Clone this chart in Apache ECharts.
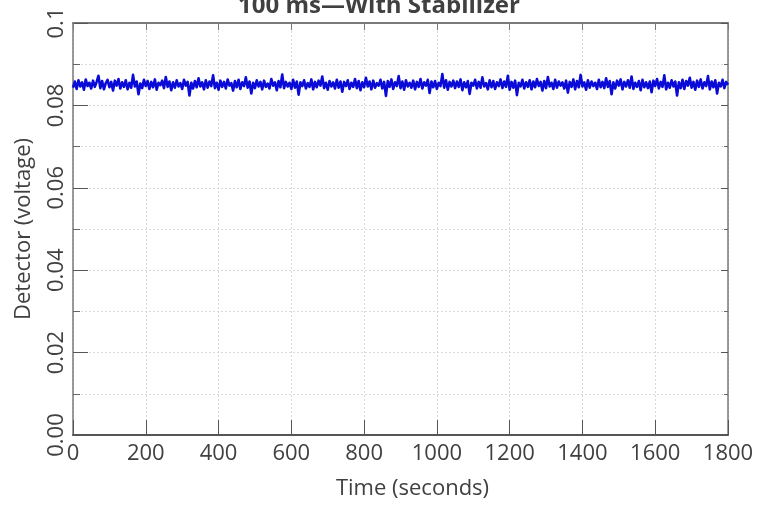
<!DOCTYPE html>
<html>
<head>
<meta charset="utf-8">
<script src="https://cdn.jsdelivr.net/npm/echarts@6/dist/echarts.min.js"></script>
<style>
  html, body { margin: 0; padding: 0; background: #fff; }
  #chart { width: 768px; height: 505px; }
</style>
</head>
<body>
<div id="chart"></div>
<script>
// detector reading, one sample every 5 s from 0 to 1800 s
const sampleStep = 5;
const detectorVolts = [
  0.0843,0.0858,0.0840,0.0861,0.0846,0.0856,0.0838,0.0863,0.0847,0.0855,
  0.0841,0.0860,0.0845,0.0857,0.0872,0.0842,0.0859,0.0839,0.0854,0.0862,
  0.0844,0.0857,0.0836,0.0860,0.0848,0.0864,0.0841,0.0856,0.0845,0.0861,
  0.0839,0.0855,0.0843,0.0874,0.0846,0.0858,0.0827,0.0853,0.0842,0.0862,
  0.0847,0.0859,0.0840,0.0857,0.0844,0.0863,0.0838,0.0855,0.0849,0.0860,
  0.0842,0.0869,0.0845,0.0858,0.0837,0.0856,0.0843,0.0861,0.0846,0.0854,
  0.0840,0.0862,0.0848,0.0857,0.0824,0.0855,0.0841,0.0859,0.0844,0.0866,
  0.0846,0.0856,0.0839,0.0861,0.0843,0.0858,0.0847,0.0873,0.0842,0.0855,
  0.0838,0.0860,0.0845,0.0857,0.0841,0.0863,0.0848,0.0854,0.0836,0.0859,
  0.0844,0.0862,0.0840,0.0856,0.0847,0.0868,0.0843,0.0858,0.0829,0.0855,
  0.0842,0.0861,0.0846,0.0857,0.0839,0.0860,0.0845,0.0853,0.0841,0.0864,
  0.0848,0.0856,0.0837,0.0859,0.0844,0.0875,0.0842,0.0857,0.0846,0.0855,
  0.0840,0.0862,0.0843,0.0858,0.0826,0.0856,0.0847,0.0861,0.0841,0.0854,
  0.0845,0.0863,0.0839,0.0857,0.0844,0.0860,0.0848,0.0870,0.0842,0.0855,
  0.0838,0.0859,0.0846,0.0856,0.0841,0.0862,0.0843,0.0858,0.0833,0.0857,
  0.0847,0.0861,0.0840,0.0855,0.0845,0.0864,0.0842,0.0859,0.0837,0.0856,
  0.0844,0.0867,0.0846,0.0858,0.0839,0.0860,0.0843,0.0854,0.0848,0.0862,
  0.0841,0.0857,0.0823,0.0859,0.0845,0.0863,0.0840,0.0856,0.0847,0.0871,
  0.0842,0.0858,0.0838,0.0861,0.0846,0.0855,0.0843,0.0860,0.0839,0.0857,
  0.0845,0.0864,0.0841,0.0856,0.0848,0.0862,0.0830,0.0858,0.0844,0.0859,
  0.0840,0.0855,0.0847,0.0876,0.0843,0.0861,0.0838,0.0857,0.0846,0.0860,
  0.0842,0.0858,0.0845,0.0863,0.0837,0.0856,0.0844,0.0859,0.0828,0.0855,
  0.0848,0.0862,0.0841,0.0857,0.0843,0.0868,0.0846,0.0854,0.0839,0.0861,
  0.0844,0.0859,0.0840,0.0856,0.0847,0.0863,0.0842,0.0858,0.0845,0.0872,
  0.0838,0.0857,0.0843,0.0860,0.0825,0.0855,0.0846,0.0862,0.0841,0.0856,
  0.0845,0.0861,0.0839,0.0858,0.0844,0.0864,0.0847,0.0857,0.0836,0.0859,
  0.0842,0.0869,0.0846,0.0855,0.0840,0.0862,0.0843,0.0858,0.0848,0.0856,
  0.0841,0.0860,0.0831,0.0857,0.0845,0.0863,0.0839,0.0859,0.0844,0.0874,
  0.0846,0.0856,0.0838,0.0861,0.0843,0.0858,0.0847,0.0855,0.0840,0.0862,
  0.0844,0.0857,0.0842,0.0866,0.0845,0.0859,0.0827,0.0856,0.0841,0.0860,
  0.0848,0.0863,0.0839,0.0857,0.0846,0.0861,0.0843,0.0870,0.0840,0.0855,
  0.0845,0.0859,0.0837,0.0862,0.0844,0.0856,0.0842,0.0858,0.0832,0.0860,
  0.0847,0.0864,0.0841,0.0857,0.0845,0.0873,0.0839,0.0855,0.0843,0.0861,
  0.0846,0.0858,0.0824,0.0856,0.0842,0.0862,0.0840,0.0859,0.0848,0.0867,
  0.0843,0.0857,0.0838,0.0860,0.0845,0.0863,0.0841,0.0856,0.0847,0.0871,
  0.0839,0.0858,0.0844,0.0861,0.0829,0.0855,0.0846,0.0862,0.0842,0.0857,
  0.0850
];
const yTickLabels = ['0.00', '0.02', '0.04', '0.06', '0.08', '0.1'];

const seriesData = detectorVolts.map((v, i) => [i * sampleStep, v]);

const chart = echarts.init(document.getElementById('chart'), null, { renderer: 'canvas' });
const font = 'Open Sans';
const frameColor = '#7a7a7a';
const gridLine = { show: true, lineStyle: { color: '#d8d8d8', type: [2, 2], width: 1 } };

const option = {
  animation: false,
  backgroundColor: '#fff',
  title: {
    text: '100 ms\u2014With Stabilizer',
    left: 233,
    top: -11,
    textStyle: { fontFamily: font, fontWeight: 'bold', fontSize: 24, color: '#404040' }
  },
  grid: { left: 73, right: 40, top: 23, bottom: 68, containLabel: false },
  xAxis: [{
    type: 'value',
    min: 0, max: 1800, interval: 200,
    name: 'Time (seconds)',
    nameLocation: 'middle',
    nameGap: 43,
    nameTextStyle: { fontFamily: font, fontSize: 22, color: '#404040', padding: [0, 0, 0, 24] },
    axisLine: { show: true, onZero: false, lineStyle: { color: '#555', width: 2 } },
    axisTick: { show: true, inside: true, length: 15, lineStyle: { color: '#555' } },
    axisLabel: { fontFamily: font, fontSize: 22, color: '#404040', margin: 8, formatter: v => String(v) },
    splitLine: gridLine
  }, {
    type: 'value', position: 'top',
    min: 0, max: 1800, interval: 200,
    axisLine: { show: true, onZero: false, lineStyle: { color: frameColor, width: 2 } },
    axisTick: { show: true, inside: true, length: 7, lineStyle: { color: frameColor } },
    axisLabel: { show: false },
    splitLine: { show: false }
  }],
  yAxis: [{
    type: 'value',
    min: 0, max: 0.1, interval: 0.02,
    name: 'Detector (voltage)',
    nameLocation: 'middle',
    nameGap: 38,
    nameTextStyle: { fontFamily: font, fontSize: 22, color: '#404040' },
    axisLine: { show: true, onZero: false, lineStyle: { color: frameColor, width: 1.5 } },
    axisTick: { show: true, inside: true, length: 15, lineStyle: { color: '#555' } },
    minorTick: { show: true, splitNumber: 2, length: 7, lineStyle: { color: '#666' } },
    minorSplitLine: gridLine,
    axisLabel: {
      fontFamily: font, fontSize: 22, color: '#404040', rotate: 90, margin: 5,
      formatter: v => yTickLabels[Math.round(v / 0.02)]
    },
    splitLine: gridLine
  }, {
    type: 'value', position: 'right',
    min: 0, max: 0.1, interval: 0.02,
    axisLine: { show: true, onZero: false, lineStyle: { color: frameColor, width: 1.5 } },
    axisTick: { show: true, inside: true, length: 7, lineStyle: { color: '#555' } },
    minorTick: { show: true, splitNumber: 2, length: 4, lineStyle: { color: '#666' } },
    axisLabel: { show: false },
    splitLine: { show: false }
  }],
  series: [{
    type: 'line',
    xAxisIndex: 0,
    yAxisIndex: 0,
    data: seriesData,
    showSymbol: false,
    sampling: null,
    lineStyle: { color: '#0b0bd8', width: 2.6, join: 'round' },
    z: 5
  }]
};
chart.setOption(option);
</script>
</body>
</html>
